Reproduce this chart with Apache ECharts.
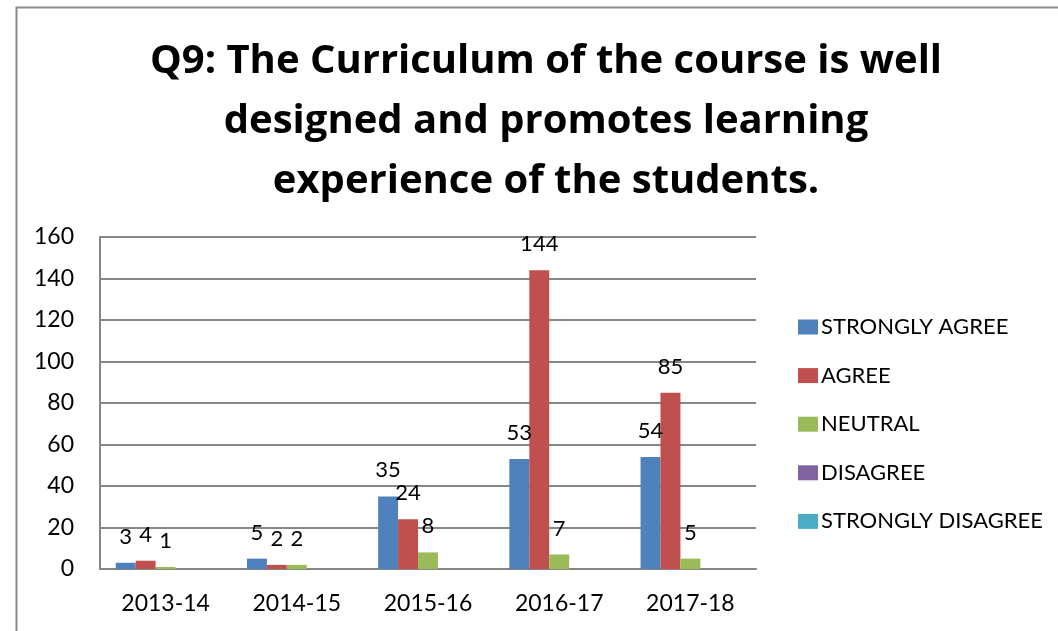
<!DOCTYPE html>
<html>
<head>
<meta charset="utf-8">
<script src="https://cdn.jsdelivr.net/npm/echarts@6/dist/echarts.min.js"></script>
<style>
html,body{margin:0;padding:0;background:#fff;}
#chart{width:1058px;height:631px;}
</style>
</head>
<body>
<div id="chart"></div>
<script>
// values
const years = ['2013-14', '2014-15', '2015-16', '2016-17', '2017-18'];
const stronglyAgree = [3, 5, 35, 53, 54];
const agree = [4, 2, 24, 144, 85];
const neutral = [1, 2, 8, 7, 5];
const disagree = [null, null, null, null, null];
const stronglyDisagree = [null, null, null, null, null];
const seriesNames = ['STRONGLY AGREE', 'AGREE', 'NEUTRAL', 'DISAGREE', 'STRONGLY DISAGREE'];
const colors = ['#4F81BD', '#C0504D', '#9BBB59', '#8064A2', '#4BACC6'];
const yTicks = { min: 0, max: 160, interval: 20 };
const titleText = 'Q9: The Curriculum of the course is well\ndesigned and promotes learning\nexperience of the students.';

const FONT = 'Lato, "Open Sans", sans-serif';
const TITLE_FONT = '"Open Sans", Lato, sans-serif';
const chart = echarts.init(document.getElementById('chart'));

const values = [stronglyAgree, agree, neutral, disagree, stronglyDisagree];
const series = seriesNames.map((name, i) => ({
  name: name,
  type: 'bar',
  data: values[i],
  barGap: '0%',
  barCategoryGap: '24%',
  itemStyle: { color: colors[i] },
  label: {
    show: true,
    position: 'top',
    distance: 15,
    color: '#000',
    fontFamily: FONT,
    fontSize: 22
  }
}));

chart.setOption({
  animation: false,
  backgroundColor: '#fff',
  color: colors,
  graphic: [
    {
      type: 'rect',
      shape: { x: 16.5, y: 7.5, width: 1200, height: 800 },
      style: { fill: 'none', stroke: '#8a8a8a', lineWidth: 2 }
    },
    {
      type: 'text',
      x: 546,
      y: 32,
      style: {
        text: titleText,
        textAlign: 'center',
        textVerticalAlign: 'top',
        font: 'bold 40px ' + TITLE_FONT,
        lineHeight: 60,
        fill: '#000'
      }
    }
  ],
  legend: {
    orient: 'vertical',
    left: 798,
    top: 316,
    padding: 0,
    itemWidth: 20,
    itemHeight: 15,
    itemGap: 26.6,
    icon: 'rect',
    textStyle: { color: '#000', fontFamily: FONT, fontSize: 22, padding: [0, 0, 0, -2] },
    data: seriesNames
  },
  grid: { left: 100, top: 237, width: 656, height: 332, containLabel: false },
  xAxis: {
    type: 'category',
    data: years,
    axisLine: { lineStyle: { color: '#868686', width: 2 } },
    axisTick: { show: false },
    axisLabel: { color: '#000', fontFamily: FONT, fontSize: 23, margin: 23 }
  },
  yAxis: {
    type: 'value',
    min: yTicks.min,
    max: yTicks.max,
    interval: yTicks.interval,
    axisLine: { show: true, lineStyle: { color: '#868686', width: 2 } },
    axisTick: { show: false },
    splitLine: { lineStyle: { color: '#868686', width: 2 } },
    axisLabel: { color: '#000', fontFamily: FONT, fontSize: 23, margin: 26 }
  },
  series: series
});
</script>
</body>
</html>
